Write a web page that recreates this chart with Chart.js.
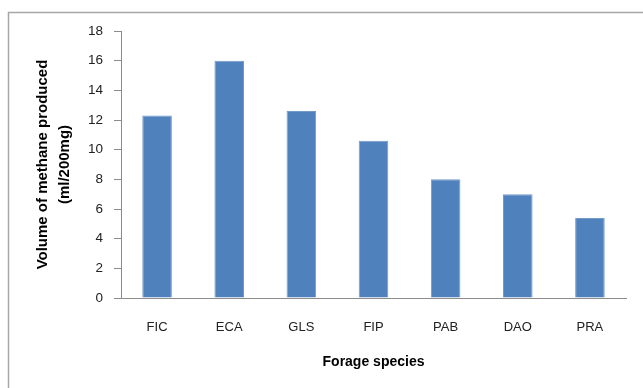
<!DOCTYPE html>
<html>
<head>
<meta charset="utf-8">
<script src="https://cdn.jsdelivr.net/npm/chart.js@4.4.0/dist/chart.umd.min.js"></script>
<style>
html,body{margin:0;padding:0;background:#fff;}
#wrap{position:relative;width:643px;height:388px;}
</style>
</head>
<body>
<div id="wrap"><canvas id="c" width="643" height="388"></canvas></div>
<script>
const categories = ['FIC','ECA','GLS','FIP','PAB','DAO','PRA'];
const methaneValues = [12.3, 16.0, 12.6, 10.6, 8.0, 7.0, 5.4];
const yTickValues = [0,2,4,6,8,10,12,14,16,18];

const framePlugin = {
  id: 'frame',
  beforeDraw(chart) {
    const ctx = chart.ctx;
    ctx.save();
    ctx.fillStyle = '#fff';
    ctx.fillRect(0,0,chart.width,chart.height);
    ctx.strokeStyle = '#a6a6a6';
    ctx.lineWidth = 1.5;
    ctx.strokeRect(8.5, 12.5, 700, 500);
    ctx.restore();
  }
};

const FONT = "'Liberation Sans', Arial, sans-serif";

new Chart(document.getElementById('c'), {
  type: 'bar',
  data: {
    labels: categories,
    datasets: [{
      data: methaneValues,
      backgroundColor: '#4F81BD',
      borderColor: '#7399c9',
      borderWidth: 1,
      barPercentage: 0.41,
      categoryPercentage: 1.0
    }]
  },
  options: {
    responsive: false,
    animation: false,
    layout: { padding: { left: 0, top: 31, right: 17, bottom: 0 } },
    plugins: { legend: { display: false }, tooltip: { enabled: false } },
    scales: {
      x: {
        grid: { display: false },
        border: { display: true, color: '#8c8c8c', width: 1 },
        ticks: { color: '#222', font: { family: FONT, size: 13 }, padding: 14 },
        title: { display: true, text: 'Forage species', color: '#000',
                 font: { family: FONT, size: 14, weight: 'bold' }, padding: { top: 4, bottom: 17 } },
        afterFit(s) { s.height = 90; }
      },
      y: {
        min: 0, max: 18,
        afterBuildTicks(s) { s.ticks = yTickValues.map(v => ({ value: v })); },
        grid: { drawOnChartArea: false, drawTicks: true, tickLength: 7, color: '#8c8c8c' },
        border: { display: true, color: '#8c8c8c', width: 1 },
        ticks: { color: '#222', font: { family: FONT, size: 13.5 }, padding: 11 },
        title: { display: true, text: ['Volume of methane produced', '(ml/200mg)'], color: '#000',
                 font: { family: FONT, size: 15, weight: 'bold', lineHeight: 1.47 }, padding: { top: 32 } },
        afterFit(s) { s.width = 121; }
      }
    }
  },
  plugins: [framePlugin]
});
</script>
</body>
</html>
